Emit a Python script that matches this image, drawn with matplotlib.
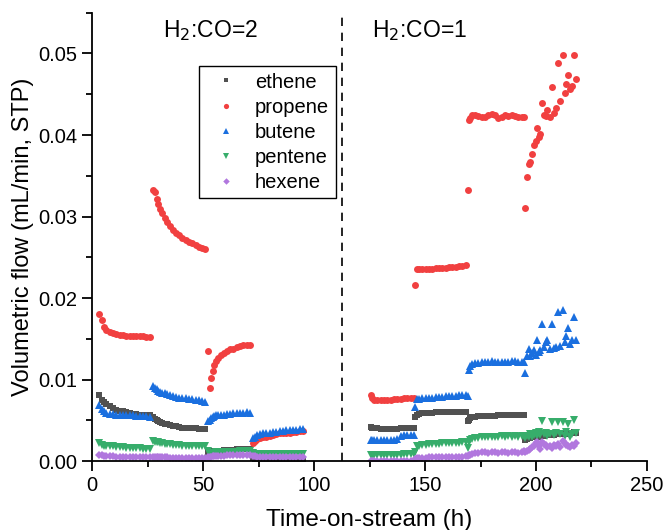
import numpy as np
import matplotlib
matplotlib.use("Agg")
import matplotlib.pyplot as plt
from matplotlib.ticker import MultipleLocator, FormatStrFormatter

plt.rcParams['font.family'] = ['Liberation Sans', 'DejaVu Sans']

# ---- data (time-on-stream in h, flows in mL/min STP) ----
t = [
    # H2:CO=2, period A
    3.3, 4.3, 5.3, 6.5, 8, 9.5, 11, 12.5, 14, 15.5, 17, 18.5, 20, 21.5, 23, 24.5, 26,
    # period B
    27.6, 28.3, 29.1, 29.9, 30.8, 31.7, 32.7, 33.8, 35, 36.3, 37.7, 39.2, 40.7, 42.2, 43.7, 45.2, 46.7, 48.2, 49.7, 51,
    # period C
    52.4, 53.1, 53.7, 54.3, 55, 55.8, 56.8, 58, 59.3, 60.7, 62.2, 63.7, 65.2, 66.7, 68.2, 69.7, 71.2,
    # period D
    72.4, 73.3, 74.3, 75.5, 77, 78.5, 80, 81.5, 83, 84.5, 86, 87.5, 89, 90.5, 92, 93.5, 95,
    # H2:CO=1, period E
    125.6, 126.3, 127.2, 128.5, 130, 131.5, 133, 134.5, 136, 137.5, 139, 140.5, 142, 143.5, 145,
    # period F
    145.6, 146.3, 147.3, 148.8, 150.3, 151.8, 153.3, 154.8, 156.3, 157.8, 159.3, 160.8, 162.3, 163.8, 165.3, 166.8, 168.3, 169.5,
    # period G
    169.7, 170.3, 171.2, 172.5, 174, 175.5, 177, 178.5, 180, 181.5, 183, 184.5, 186, 187.5, 189, 190.5, 192, 193.5, 194.5,
    # period H
    195.2, 196.0, 196.9, 197.5, 198.2, 199.1, 199.9, 200.6, 201.4, 202.0, 202.9, 203.5, 204.4, 205.0,
    206.2, 207.4, 208.0, 208.9, 210.0, 211.0, 212.2, 213.1, 213.7, 214.6, 215.2, 216.1, 216.9, 217.8,
]

ethene = [
    0.0081, 0.0075, 0.0072, 0.0070, 0.0067, 0.0065, 0.0063, 0.0062, 0.0061, 0.0060, 0.0059, 0.0058, 0.0058, 0.0057, 0.0057, 0.0056, 0.0056,
    0.0054, 0.0052, 0.0050, 0.0049, 0.0048, 0.0047, 0.0046, 0.0045, 0.0044, 0.0043, 0.0043, 0.0042, 0.0041, 0.0041, 0.0040, 0.0040, 0.0040, 0.0039, 0.0039, 0.0039,
    0.0011, 0.0012, 0.0012, 0.0012, 0.0013, 0.0013, 0.0013, 0.0013, 0.0014, 0.0014, 0.0014, 0.0014, 0.0015, 0.0015, 0.0015, 0.0015, 0.0015,
    0.00032, 0.00031, 0.0003, 0.0003, 0.0003, 0.00029, 0.00028, 0.00028, 0.00027, 0.00026, 0.00026, 0.00025, 0.00024, 0.00024, 0.00023, 0.00022, 0.00022,
    0.0042, 0.0041, 0.0040, 0.0040, 0.0039, 0.0039, 0.0039, 0.0039, 0.0039, 0.0039, 0.0040, 0.0040, 0.0040, 0.0041, 0.0041,
    0.0054, 0.0057, 0.0058, 0.0059, 0.0059, 0.0059, 0.0059, 0.0060, 0.0060, 0.0060, 0.0060, 0.0060, 0.0060, 0.0060, 0.0060, 0.0060, 0.0060, 0.0049,
    0.0051, 0.0053, 0.0054, 0.0054, 0.0055, 0.0055, 0.0055, 0.0055, 0.0055, 0.0055, 0.0056, 0.0056, 0.0056, 0.0056, 0.0056, 0.0056, 0.0056, 0.0056, 0.0056,
    0.0026, 0.0027, 0.0028, 0.0028, 0.0029, 0.0030, 0.0030, 0.0031, 0.0030, 0.0031, 0.0032, 0.0031, 0.0032, 0.0032,
    0.0032, 0.0033, 0.0032, 0.0033, 0.0034, 0.0033, 0.0035, 0.0033, 0.0034, 0.0034, 0.0034, 0.0034, 0.0036, 0.0035,
]

propene = [
    0.0180, 0.0173, 0.0165, 0.0161, 0.0158, 0.0157, 0.0156, 0.0155, 0.0155, 0.0154, 0.0154, 0.0153, 0.0153, 0.0153, 0.0153, 0.0152, 0.0152,
    0.0332, 0.0330, 0.0321, 0.0315, 0.0309, 0.0304, 0.0298, 0.0293, 0.0288, 0.0284, 0.0280, 0.0277, 0.0274, 0.0271, 0.0269, 0.0267, 0.0265, 0.0263, 0.0262, 0.0260,
    0.0135, 0.0090, 0.0102, 0.0111, 0.0118, 0.0123, 0.0127, 0.0130, 0.0133, 0.0135, 0.0137, 0.0138, 0.0140, 0.0141, 0.0142, 0.0143, 0.0143,
    0.0022, 0.0025, 0.0027, 0.0028, 0.0029, 0.0030, 0.0031, 0.0032, 0.0033, 0.0034, 0.0034, 0.0035, 0.0035, 0.0036, 0.0036, 0.0037, 0.0037,
    0.0081, 0.0077, 0.0075, 0.0075, 0.0075, 0.0075, 0.0075, 0.0075, 0.0076, 0.0076, 0.0076, 0.0077, 0.0077, 0.0077, 0.0078,
    0.0216, 0.0236, 0.0236, 0.0236, 0.0236, 0.0236, 0.0236, 0.0237, 0.0237, 0.0237, 0.0237, 0.0238, 0.0238, 0.0238, 0.0239, 0.0239, 0.0240, 0.0332,
    0.0418, 0.0421, 0.0424, 0.0425, 0.0423, 0.0422, 0.0422, 0.0424, 0.0426, 0.0424, 0.0421, 0.0422, 0.0424, 0.0423, 0.0425, 0.0423, 0.0422, 0.0422, 0.0422,
    0.0311, 0.0348, 0.0365, 0.0367, 0.0377, 0.0388, 0.0393, 0.0408, 0.0397, 0.0401, 0.0439, 0.0424, 0.0423, 0.0431,
    0.0422, 0.0459, 0.0427, 0.0433, 0.0488, 0.0442, 0.0498, 0.0451, 0.0463, 0.0474, 0.0457, 0.0460, 0.0498, 0.0469,
]

butene = [
    0.0069, 0.0064, 0.0061, 0.0059, 0.0058, 0.0058, 0.0057, 0.0057, 0.0056, 0.0056, 0.0056, 0.0056, 0.0055, 0.0055, 0.0055, 0.0055, 0.0054,
    0.0092, 0.0090, 0.0088, 0.0086, 0.0085, 0.0084, 0.0083, 0.0082, 0.0081, 0.0080, 0.0079, 0.0078, 0.0077, 0.0077, 0.0076, 0.0076, 0.0075, 0.0075, 0.0074, 0.0073,
    0.0049, 0.0051, 0.0053, 0.0054, 0.0055, 0.0056, 0.0056, 0.0057, 0.0057, 0.0058, 0.0058, 0.0059, 0.0059, 0.0059, 0.0059, 0.0060, 0.0059,
    0.0028, 0.0030, 0.0032, 0.0033, 0.0034, 0.0035, 0.0035, 0.0036, 0.0036, 0.0037, 0.0037, 0.0038, 0.0038, 0.0038, 0.0038, 0.0039, 0.0039,
    0.0026, 0.0026, 0.0026, 0.0026, 0.0026, 0.0026, 0.0026, 0.0026, 0.0026, 0.0027, 0.0031, 0.0032, 0.0032, 0.0032, 0.0032,
    0.0066, 0.0076, 0.0076, 0.0077, 0.0078, 0.0078, 0.0078, 0.0079, 0.0079, 0.0079, 0.0080, 0.0080, 0.0080, 0.0080, 0.0081, 0.0081, 0.0081, 0.0080,
    0.0112, 0.0117, 0.0119, 0.0120, 0.0120, 0.0121, 0.0121, 0.0122, 0.0123, 0.0122, 0.0121, 0.0122, 0.0121, 0.0122, 0.0123, 0.0123, 0.0122, 0.0122, 0.0121,
    0.0108, 0.0129, 0.0137, 0.0129, 0.0133, 0.0136, 0.0130, 0.0148, 0.0134, 0.0136, 0.0168, 0.0140, 0.0146, 0.0149,
    0.0138, 0.0168, 0.0139, 0.0140, 0.0183, 0.0141, 0.0185, 0.0146, 0.0153, 0.0163, 0.0144, 0.0148, 0.0177, 0.0148,
]

pentene = [
    0.0022, 0.0020, 0.0019, 0.0018, 0.0018, 0.0018, 0.0017, 0.0017, 0.0017, 0.0016, 0.0016, 0.0016, 0.0016, 0.0016, 0.0015, 0.0015, 0.0015,
    0.0025, 0.0024, 0.0023, 0.0023, 0.0022, 0.0022, 0.0021, 0.0021, 0.0021, 0.0020, 0.0020, 0.0020, 0.0019, 0.0019, 0.0019, 0.0019, 0.0019, 0.0018, 0.0018, 0.0018,
    0.0013, 0.0010, 0.0010, 0.0010, 0.0010, 0.0011, 0.0011, 0.0011, 0.0011, 0.0011, 0.0011, 0.0011, 0.0011, 0.0012, 0.0012, 0.0012, 0.0012,
    0.00094, 0.00093, 0.00092, 0.00091, 0.0009, 0.0009, 0.00089, 0.00089, 0.00088, 0.00088, 0.00087, 0.00087, 0.00087, 0.00086, 0.00086, 0.00086, 0.00086,
    0.00074, 0.00074, 0.00075, 0.00075, 0.00076, 0.00076, 0.00077, 0.00078, 0.00078, 0.00079, 0.0008, 0.00081, 0.00082, 0.00084, 0.00086,
    0.0011, 0.0018, 0.0019, 0.0020, 0.0020, 0.0021, 0.0021, 0.0021, 0.0021, 0.0022, 0.0022, 0.0022, 0.0022, 0.0022, 0.0022, 0.0023, 0.0023, 0.0016,
    0.0024, 0.0026, 0.0027, 0.0028, 0.0028, 0.0029, 0.0029, 0.0030, 0.0030, 0.0030, 0.0030, 0.0031, 0.0030, 0.0031, 0.0030, 0.0031, 0.0030, 0.0031, 0.0031,
    0.0028, 0.0031, 0.0029, 0.0033, 0.0030, 0.0032, 0.0034, 0.0031, 0.0036, 0.0032, 0.0049, 0.0033, 0.0035, 0.0031,
    0.0033, 0.0048, 0.0032, 0.0034, 0.0048, 0.0033, 0.0048, 0.0031, 0.0036, 0.0045, 0.0030, 0.0033, 0.0051, 0.0035,
]

hexene = [
    0.00074, 0.0007, 0.00066, 0.00063, 0.0006, 0.00058, 0.00056, 0.00055, 0.00054, 0.00053, 0.00052, 0.00051, 0.0005, 0.0005, 0.00049, 0.00048, 0.00047,
    0.00053, 0.00052, 0.0005, 0.00049, 0.00048, 0.00047, 0.00046, 0.00045, 0.00044, 0.00043, 0.00042, 0.00041, 0.0004, 0.0004, 0.00039, 0.00038, 0.00037, 0.00036, 0.00035, 0.00034,
    0.00053, 0.00055, 0.00056, 0.00058, 0.0006, 0.00062, 0.00064, 0.00066, 0.00068, 0.0007, 0.00071, 0.00072, 0.00073, 0.00074, 0.00074, 0.00075, 0.00075,
    0.00058, 0.00057, 0.00056, 0.00055, 0.00055, 0.00055, 0.00054, 0.00054, 0.00054, 0.00055, 0.00055, 0.00054, 0.00054, 0.00055, 0.00055, 0.00056, 0.00056,
    0.00005, 0.00005, 0.00005, 0.00005, 0.00005, 0.00005, 0.00005, 0.00005, 0.00005, 0.00005, 0.00006, 0.00006, 0.00006, 0.00006, 0.00006,
    0.0003, 0.00035, 0.0004, 0.00042, 0.00044, 0.00045, 0.00046, 0.00047, 0.00048, 0.0005, 0.0005, 0.00052, 0.00053, 0.00054, 0.00055, 0.00056, 0.00058, 0.0006,
    0.0007, 0.0008, 0.0009, 0.0010, 0.0010, 0.0011, 0.0011, 0.0010, 0.0011, 0.0011, 0.0010, 0.0011, 0.0011, 0.0010, 0.0011, 0.0011, 0.0010, 0.0011, 0.0012,
    0.0011, 0.0013, 0.0014, 0.0015, 0.0017, 0.0019, 0.0022, 0.0024, 0.0019, 0.0015, 0.0024, 0.0021, 0.0020, 0.0017,
    0.0019, 0.0016, 0.0020, 0.0018, 0.0021, 0.0017, 0.0025, 0.0022, 0.0020, 0.0019, 0.0017, 0.0020, 0.0018, 0.0022,
]

series_names = ["ethene", "propene", "butene", "pentene", "hexene"]
series_values = [ethene, propene, butene, pentene, hexene]
series_colors = ["#515151", "#F14040", "#1A6FDF", "#37AD6B", "#B177DE"]
series_markers = ["s", "o", "^", "v", "D"]
series_sizes = [4.6, 5.0, 5.4, 5.4, 4.4]

switch_time = 112.5
period_labels = ["H$_2$:CO=2", "H$_2$:CO=1"]
period_label_x = [53.5, 147.5]

for v in series_values:
    assert len(v) == len(t), (len(v), len(t))

fig = plt.figure(figsize=(6.67, 5.30), dpi=100)
ax = fig.add_axes([0.138, 0.130, 0.832, 0.846])

for name, vals, c, m, ms in zip(series_names, series_values, series_colors, series_markers, series_sizes):
    ax.plot(t, vals, linestyle="none", marker=m, color=c, markersize=ms,
            markeredgewidth=0, label=name)

ax.axvline(switch_time, color="black", linestyle=(0, (5, 4)), linewidth=1.2)

for lx, lab in zip(period_label_x, period_labels):
    ax.text(lx, 0.0528, lab, ha="center", va="center", fontsize=16.5)

ax.set_xlim(0, 250)
ax.set_ylim(0, 0.055)
ax.xaxis.set_major_locator(MultipleLocator(50))
ax.xaxis.set_minor_locator(MultipleLocator(25))
ax.yaxis.set_major_locator(MultipleLocator(0.01))
ax.yaxis.set_minor_locator(MultipleLocator(0.005))
ax.yaxis.set_major_formatter(FormatStrFormatter("%.2f"))

for side in ["top", "right"]:
    ax.spines[side].set_visible(False)
for side in ["left", "bottom"]:
    ax.spines[side].set_linewidth(1.3)

ax.tick_params(axis="both", which="major", direction="out", length=7.5, width=1.3, labelsize=14.5, pad=3)
ax.tick_params(axis="both", which="minor", direction="out", length=4, width=1.3)

ax.set_xlabel("Time-on-stream (h)", fontsize=17.5, labelpad=10)
ax.set_ylabel("Volumetric flow (mL/min, STP)", fontsize=17, labelpad=3)

leg = ax.legend(loc="upper left", bbox_to_anchor=(0.193, 0.881), borderaxespad=0,
                fontsize=14.5, frameon=True, fancybox=False, edgecolor="black",
                framealpha=1, handlelength=2.0, handletextpad=0.45,
                labelspacing=0.3, borderpad=0.32, markerscale=0.75)
leg.get_frame().set_linewidth(1.0)

fig.savefig("out.png", dpi=100)
